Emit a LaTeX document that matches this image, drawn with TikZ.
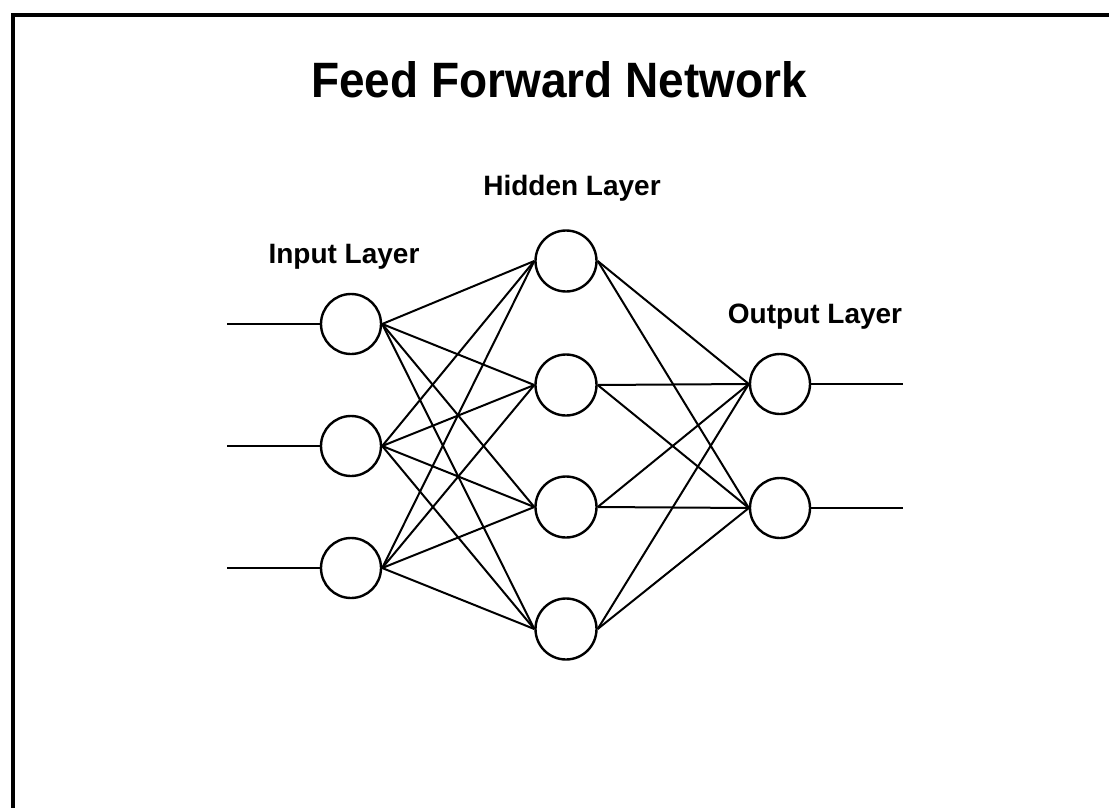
\documentclass[tikz,border=0pt]{standalone}
\usepackage{fontspec}
\setmainfont{Liberation Sans}
\begin{document}
\begin{tikzpicture}[x=1pt,y=-1pt,
  neuron/.style={draw,circle,line width=2.4pt,minimum size=60pt,inner sep=0pt},
  conn/.style={line width=2pt},
  frameline/.style={line width=4pt},
  lbl/.style={anchor=base,inner sep=0pt,font=\fontsize{28}{30}\selectfont\bfseries},
  ttl/.style={anchor=base,inner sep=0pt,font=\fontsize{46}{50}\selectfont\bfseries}]
\useasboundingbox (0,0) rectangle (1109,808);
% frame
\coordinate (fbl) at (13,808);
\coordinate (ftl) at (13,15);
\coordinate (ftr) at (1109,15);
\draw[frameline] (fbl) -- (ftl) -- (ftr);
% title and labels
\node[ttl] (title) at (559,97) {\scalebox{1}[1.08]{Feed Forward Network}};
\node[lbl] (lin) at (344,263) {Input Layer};
\node[lbl] (lhid) at (572,195) {Hidden Layer};
\node[lbl] (lout) at (815,323) {Output Layer};
% neurons
\node[neuron] (i1) at (351,324) {};
\node[neuron] (i2) at (351,446) {};
\node[neuron] (i3) at (351,568) {};
\node[neuron,minimum size=61pt] (h1) at (566,261) {};
\node[neuron,minimum size=61pt] (h2) at (566,385) {};
\node[neuron,minimum size=61pt] (h3) at (566,507) {};
\node[neuron,minimum size=61pt] (h4) at (566,629) {};
\node[neuron] (o1) at (780,384) {};
\node[neuron] (o2) at (780,508) {};
% free ends
\coordinate (a1) at (227,324);
\coordinate (a2) at (227,446);
\coordinate (a3) at (227,568);
\coordinate (b1) at (903,384);
\coordinate (b2) at (903,508);
\foreach \k in {1,2,3} {\draw[conn] (a\k) -- (i\k.west);}
\foreach \k in {1,2} {\draw[conn] (o\k.east) -- (b\k);}
\foreach \i in {1,2,3} {\foreach \h in {1,2,3,4} {\draw[conn] (i\i.east) -- (h\h.west);}}
\foreach \h in {1,2,3,4} {\foreach \o in {1,2} {\draw[conn] (h\h.east) -- (o\o.west);}}
\end{tikzpicture}
\end{document}
